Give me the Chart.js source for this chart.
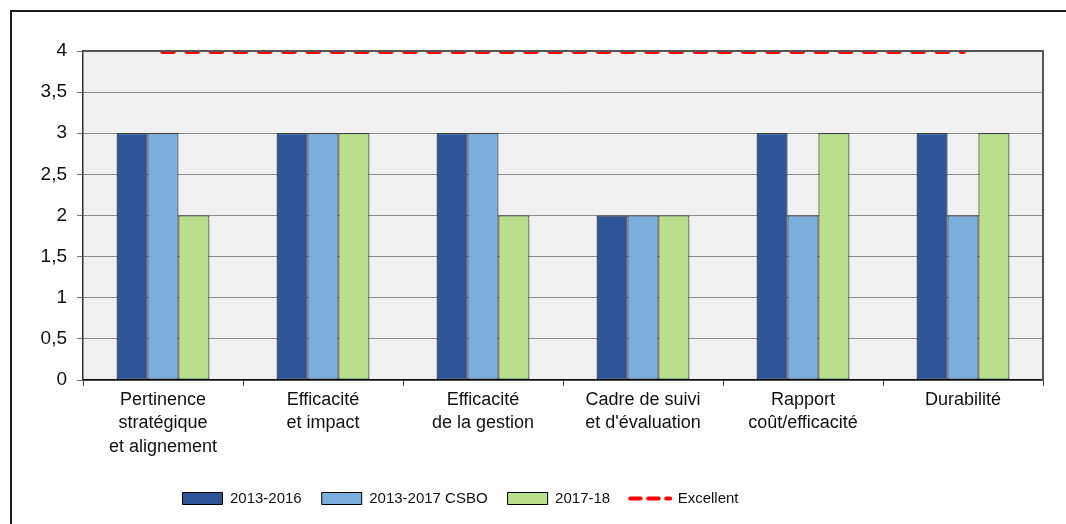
<!DOCTYPE html>
<html lang="fr">
<head>
<meta charset="utf-8">
<title>Notation par critère</title>
<script src="https://cdn.jsdelivr.net/npm/chart.js@4/dist/chart.umd.min.js"></script>
<style>
  html, body { margin:0; padding:0; background:#fff; overflow:hidden; }
  #frame { position:absolute; left:10px; top:10px; width:1200px; height:700px; border:2px solid #1a1a1a; }
  #wrap { position:absolute; left:0; top:0; width:1066px; height:524px; }
</style>
</head>
<body>
<div id="frame"></div>
<div id="wrap"><canvas id="c" width="1066" height="524"></canvas></div>
<script>
// criteria on the x axis (multi-line labels)
const criteres = [
  ['Pertinence', 'stratégique', 'et alignement'],
  ['Efficacité', 'et impact'],
  ['Efficacité', 'de la gestion'],
  ['Cadre de suivi', "et d'évaluation"],
  ['Rapport', 'coût/efficacité'],
  ['Durabilité']
];
const serie2013_2016 = [3, 3, 3, 2, 3, 3];
const serie2013_2017 = [3, 3, 3, 2, 2, 2];
const serie2017_18   = [2, 3, 2, 2, 3, 3];
const excellent      = [4, 4, 4, 4, 4, 4];
const yTicks = [0, 0.5, 1, 1.5, 2, 2.5, 3, 3.5, 4];

const FONT = "'Liberation Sans Narrow','Arial Narrow','Liberation Sans',Arial,sans-serif";
const AREA = { left:83, top:51, right:1043, bottom:380 };

Chart.defaults.font.family = FONT;
Chart.defaults.color = '#111';
Chart.defaults.animation = false;

// plot background + top/right frame, legend placement
const plotFrame = {
  id:'plotFrame',
  beforeDraw(chart) {
    const {ctx, chartArea:a} = chart;
    ctx.save();
    ctx.fillStyle = '#f0f0f0';
    ctx.fillRect(a.left, a.top, a.right - a.left, a.bottom - a.top);
    ctx.restore();
  },
  afterDatasetsDraw(chart) {
    const {ctx, chartArea:a} = chart;
    ctx.save();
    ctx.strokeStyle = '#555';
    ctx.lineWidth = 2;
    ctx.beginPath();
    ctx.moveTo(a.left, a.top); ctx.lineTo(a.right, a.top); ctx.lineTo(a.right, a.bottom);
    ctx.stroke();
    ctx.restore();
  },
  afterLayout(chart) {
    const lg = chart.legend;
    const h = lg.height;
    lg.left = 0; lg.right = 921;
    lg.top = 471; lg.bottom = 471 + h;
  }
};

const bar = (label, data, color) => ({
  label, data, backgroundColor:color, borderColor:'#000', borderWidth:1,
  borderSkipped:false, barPercentage:1, categoryPercentage:0.58
});

new Chart(document.getElementById('c'), {
  type:'bar',
  data:{
    labels:criteres,
    datasets:[
      bar('2013-2016', serie2013_2016, '#2e5597'),
      bar('2013-2017 CSBO', serie2013_2017, '#7caedd'),
      bar('2017-18', serie2017_18, '#b9df8c'),
      { type:'line', label:'Excellent', data:excellent, borderColor:'#ff0000', backgroundColor:'#ff0000',
        borderWidth:6, borderDash:[10, 14.2], borderCapStyle:'round', pointRadius:0, fill:false }
    ]
  },
  options:{
    responsive:false,
    layout:{ padding:{ top:AREA.top, right:1066 - AREA.right, left:0, bottom:0 } },
    scales:{
      x:{
        grid:{ drawOnChartArea:false, drawTicks:true, tickLength:6, color:'#444', offset:true },
        border:{ color:'#111', width:1.5 },
        ticks:{ maxRotation:0, autoSkip:false, padding:2, font:{ size:18, lineHeight:1.31 } },
        afterFit(s) { s.height = s.chart.height - s.chart.legend.height - AREA.bottom; }
      },
      y:{
        min:0, max:4,
        afterBuildTicks(s) { s.ticks = yTicks.map(v => ({ value:v })); },
        grid:{ color:c => c.tick && c.tick.value === 4 ? '#555' : '#8c8c8c', tickLength:6, tickColor:'#777' },
        border:{ color:'#333', width:1.5 },
        ticks:{ padding:10, font:{ size:19 }, callback:v => String(v).replace('.', ',') },
        afterFit(s) { s.width = AREA.left; }
      }
    },
    plugins:{
      tooltip:{ enabled:false },
      legend:{
        position:'bottom',
        labels:{
          usePointStyle:true, pointStyleWidth:40, boxHeight:12, padding:20,
          font:{ size:15 },
          generateLabels(chart) {
            return Chart.defaults.plugins.legend.labels.generateLabels(chart).map(l => {
              if (l.datasetIndex === 3) {
                return { ...l, pointStyle:'line', lineWidth:4, lineDash:[10.5, 7.5], lineCap:'round' };
              }
              return { ...l, pointStyle:'rect', lineWidth:1, strokeStyle:'#000' };
            });
          }
        }
      }
    }
  },
  plugins:[plotFrame]
});
</script>
</body>
</html>
